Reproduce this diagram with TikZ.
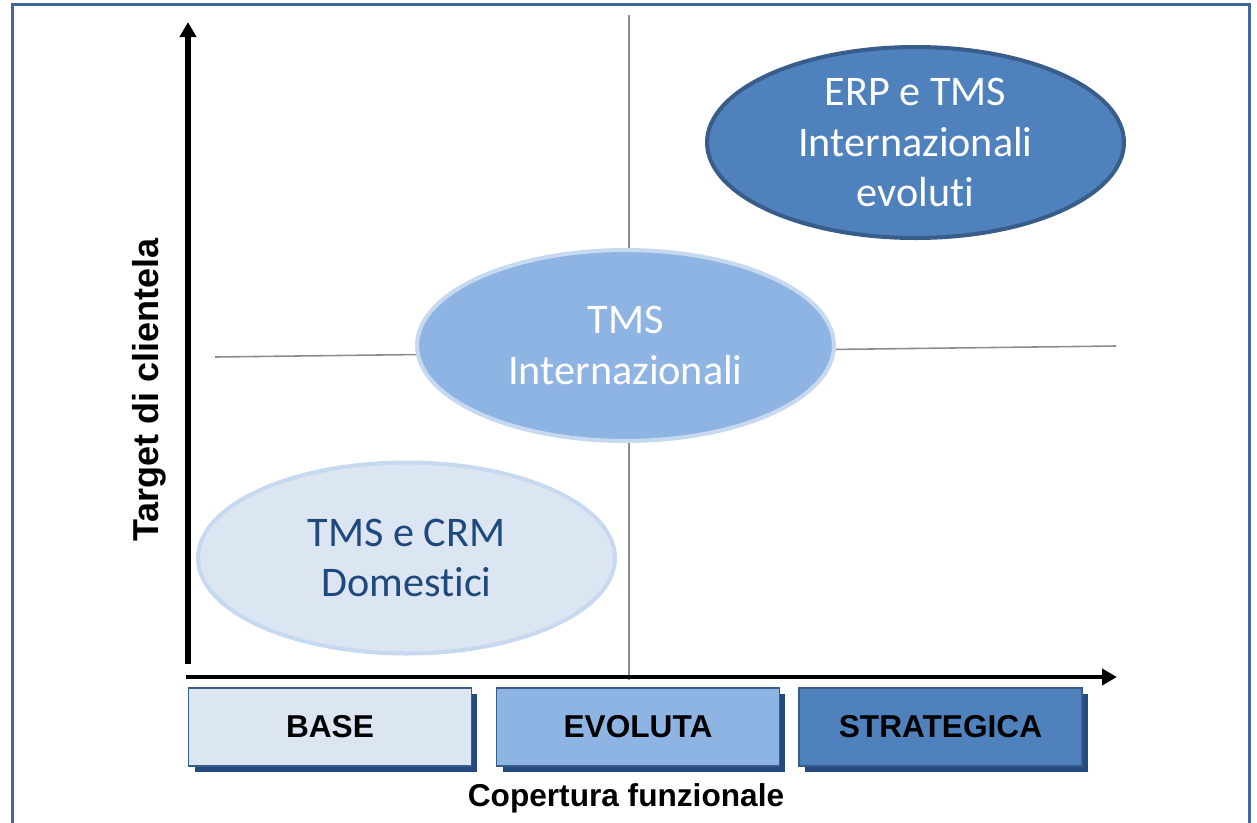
\documentclass[tikz,border=0pt]{standalone}
\usepackage{fontspec}
\setmainfont{Liberation Sans}
\newfontfamily\calibri[Ligatures=NoCommon]{Carlito}
\usetikzlibrary{arrows.meta,shapes.geometric,shadows}

\definecolor{paleblue}{HTML}{DCE6F2}
\definecolor{paleedge}{HTML}{C6D9F1}
\definecolor{midblue}{HTML}{8EB4E3}
\definecolor{deepblue}{HTML}{4F81BD}
\definecolor{deepedge}{HTML}{385D8A}
\definecolor{navy}{HTML}{244A7E}
\definecolor{inkblue}{HTML}{1F497D}
\definecolor{framecol}{HTML}{41689D}
\definecolor{quadgray}{HTML}{8C8C8C}

\tikzset{
  frame/.style={draw=framecol,line width=1.2pt},
  quad/.style={draw=quadgray,line width=0.9pt},
  axis/.style={line width=2.6pt,-{Triangle[length=0.3cm,width=0.32cm]}},
  market/.style={ellipse,line width=2.3pt,inner sep=0pt,align=center,
    minimum width=8.34cm,minimum height=3.82cm,
    font=\calibri\fontsize{24}{28.5}\selectfont},
  level/.style={draw=deepedge,line width=0.8pt,
    minimum width=5.66cm,minimum height=1.56cm,
    general shadow={fill=navy,shadow xshift=0.12cm,shadow yshift=-0.12cm},
    font=\bfseries\fontsize{18}{21}\selectfont},
  axlabel/.style={inner sep=0pt,font=\bfseries\fontsize{18}{21}\selectfont},
}

\begin{document}
\begin{tikzpicture}[x=0.02cm,y=-0.02cm]
  \useasboundingbox (0,0) rectangle (1257,822);
  \draw[frame] (12.5,4.5) rectangle (1249.5,840);

  % quadrant lines
  \coordinate (qtop) at (629,15);
  \coordinate (qbot) at (629,680);
  \coordinate (qleft) at (215,357);
  \coordinate (qright) at (1116,346);
  \draw[quad] (qtop) -- (qbot);
  \draw[quad] (qleft) -- (qright);

  % axes
  \coordinate (yfoot) at (188,664);
  \coordinate (ytip) at (188,22);
  \coordinate (xfoot) at (186,677);
  \coordinate (xtip) at (1117,677);
  \draw[axis,line width=3pt] (yfoot) -- (ytip);
  \draw[axis,line width=2.4pt] (xfoot) -- (xtip);

  % market segments
  \node[market,fill=paleblue,draw=paleedge,text=inkblue] (dom) at (406.5,558)
    {TMS e CRM\\Domestici};
  \node[market,fill=midblue,draw=paleedge,text=white] (intl) at (625.5,345.5)
    {TMS\\Internazionali};
  \node[market,fill=deepblue,draw=deepedge,text=white] (erp) at (915.5,142.5)
    {ERP e TMS\\Internazionali\\evoluti};

  % coverage levels
  \foreach \name/\x/\col/\txt in {base/330/paleblue/BASE,
      evoluta/638/midblue/EVOLUTA, strategica/940.5/deepblue/STRATEGICA}{
    \node[level,fill=\col] (\name) at (\x,727) {\txt};
  }

  \node[axlabel] (xlab) at (626,798) {Copertura funzionale};
  \node[axlabel,rotate=90,font=\bfseries\fontsize{20.5}{24}\selectfont]
    (ylab) at (149,390) {Target di clientela};
\end{tikzpicture}
\end{document}
